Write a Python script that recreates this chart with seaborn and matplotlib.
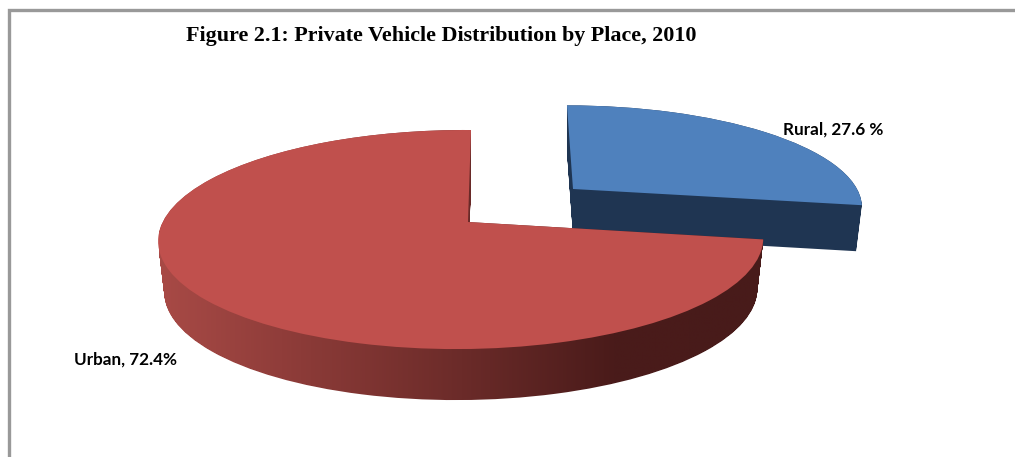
import matplotlib
matplotlib.use("Agg")
import matplotlib.pyplot as plt
import numpy as np
import seaborn as sns
from matplotlib.patches import PathPatch
from matplotlib.path import Path
from matplotlib.transforms import Transform

# ---- chart content
places = ["Rural", "Urban"]
shares = [27.6, 72.4]
label_texts = ["Rural, 27.6 %", "Urban, 72.4%"]
title_text = "Figure 2.1: Private Vehicle Distribution by Place, 2010"
top_colors = ["#4F81BD", "#C0504D"]
rural_side = "#1F3552"
urban_side = ["#A84A46", "#8A3A37", "#6B2B29", "#4A1B1A", "#481B1A"]


class TiltedDisc(Transform):
    """Projects the unit pie onto a tilted disc, lowered by `drop` pixels."""
    input_dims = output_dims = 2
    has_inverse = False

    def __init__(self, cx, cy, rx, ry, persp_y, persp_x, lean, drop=0.0, shrink=1.0):
        super().__init__()
        self.p = (cx, cy, rx, ry, persp_y, persp_x, lean, drop, shrink)

    def transform_non_affine(self, values):
        cx, cy, rx, ry, py, px, lean, drop, shrink = self.p
        x, y = np.asarray(values).T
        w = 1 + py * y + px * x
        return np.column_stack([cx + (rx * shrink * x + lean * y) / w,
                                cy - ry * y / w + drop])


RURAL = dict(cx=573, cy=189, rx=284, ry=97, persp_y=0.16, persp_x=0.0, lean=-7)
URBAN = dict(cx=468, cy=222, rx=298.5, ry=106.7, persp_y=0.16, persp_x=0.022, lean=3.5)
RURAL_DEPTH, URBAN_DEPTH = 46, 51

sns.set_theme(style="white")
fig = plt.figure(figsize=(10.15, 4.57), dpi=100, facecolor="white")
ax = fig.add_axes([0, 0, 1, 1])

wedges, _ = ax.pie(shares, colors=top_colors, startangle=90, counterclock=False,
                   wedgeprops=dict(linewidth=0, edgecolor="none"))
ax.set_aspect("auto")
ax.set_box_aspect(None)
ax.set_xlim(0, 1015)
ax.set_ylim(457, 0)
ax.set_axis_off()
rural_w, urban_w = wedges


def unit_path(w):
    return w.get_patch_transform().transform_path(w.get_path())


def extrude(w, params, depth):
    p = unit_path(w)
    parts = []
    for d in np.arange(depth, -0.5, -1.0):
        t = TiltedDisc(**params, drop=d, shrink=1 - 0.02 * d / depth)
        parts.append(Path(t.transform(p.vertices), p.codes))
    return Path.make_compound_path(*parts)


# rural piece: solid dark extrusion, lit top
ax.add_patch(PathPatch(extrude(rural_w, RURAL, RURAL_DEPTH),
                       fc=rural_side, ec="none", lw=0, zorder=1))
rural_w.set_transform(TiltedDisc(**RURAL) + ax.transData)
rural_w.set_zorder(2)

# urban piece: horizontal shade on the rim, lit top
cmap = sns.blend_palette(urban_side, as_cmap=True)
shade = np.linspace(0, 1, 512).reshape(1, -1)
im = ax.imshow(shade, cmap=cmap, extent=(159, 765, 405, 125), aspect="auto", zorder=3)
im.set_clip_path(extrude(urban_w, URBAN, URBAN_DEPTH), ax.transData)
urban_w.set_transform(TiltedDisc(**URBAN) + ax.transData)
urban_w.set_zorder(4)
ax.set_xlim(0, 1015)
ax.set_ylim(457, 0)

# page frame
ax.plot([1015, 9, 9], [10, 10, 457], color="#999999", lw=2.4, zorder=5,
        solid_joinstyle="miter", solid_capstyle="butt")

ax.text(186, 36, title_text, family="Liberation Serif", weight="bold", fontsize=15.8,
        color="black", ha="left", va="center", zorder=6)
ax.text(783, 129.5, label_texts[0], family="Lato", weight="bold", fontsize=12.3,
        color="black", ha="left", va="center", zorder=6)
ax.text(74, 360, label_texts[1], family="Lato", weight="bold", fontsize=12.3,
        color="black", ha="left", va="center", zorder=6)

fig.savefig("out.png", dpi=100, facecolor="white")
